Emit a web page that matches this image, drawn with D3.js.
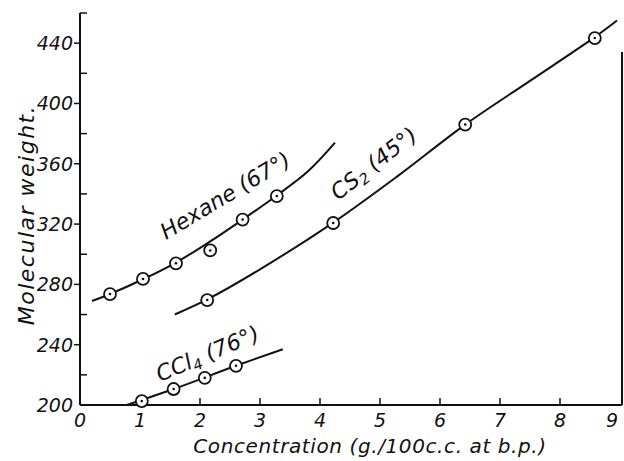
<!DOCTYPE html>
<html>
<head>
<meta charset="utf-8">
<script src="https://cdn.jsdelivr.net/npm/d3@7"></script>
<style>
  body { margin: 0; background: #fff; }
  text { font-family: "DejaVu Sans", sans-serif; font-style: italic; fill: #111; }
</style>
</head>
<body>
<div id="chart"></div>
<script>
// measured points (circles)
var hexanePts = [
    {c: 0.5, m: 273.6}, {c: 1.05, m: 283.6}, {c: 1.6, m: 294},
    {c: 2.17, m: 302.5}, {c: 2.71, m: 323}, {c: 3.28, m: 338.6}
];
var cs2Pts = [
    {c: 2.12, m: 269.6}, {c: 4.22, m: 320.7}, {c: 6.42, m: 386}, {c: 8.58, m: 443.4}
];
var ccl4Pts = [
    {c: 1.03, m: 202.6}, {c: 1.56, m: 210.6}, {c: 2.08, m: 218}, {c: 2.6, m: 226}
];

// drawn curves
var hexaneCurve = [
    {c: 0.2, m: 269}, {c: 0.5, m: 273.6}, {c: 1.05, m: 283.4}, {c: 1.6, m: 294.5},
    {c: 2.15, m: 308}, {c: 2.71, m: 323}, {c: 3.28, m: 339}, {c: 3.8, m: 355}, {c: 4.25, m: 374}
];
var cs2Curve = [
    {c: 1.58, m: 260}, {c: 2.12, m: 270}, {c: 3, m: 290}, {c: 4.22, m: 321},
    {c: 5.3, m: 352}, {c: 6.42, m: 386}, {c: 7.5, m: 415}, {c: 8.58, m: 444}, {c: 8.95, m: 455}
];
var ccl4Curve = [
    {c: 0.78, m: 200}, {c: 1.56, m: 210.6}, {c: 2.6, m: 226}, {c: 3.38, m: 237}
];

var xTicks = [0, 1, 2, 3, 4, 5, 6, 7, 8, 9];
var yMajor = [200, 240, 280, 320, 360, 400, 440];
var yMinor = [220, 260, 300, 340, 380, 420, 460];

var width = 624, height = 461;

var svg = d3.select("#chart")
    .append("svg")
    .attr("width", width)
    .attr("height", height);

var x = d3.scaleLinear().domain([0, 9]).range([80, 620]);
var y = d3.scaleLinear().domain([200, 460]).range([405, 13]);

// frame: left, bottom, right
svg.append("line")
    .attr("x1", x(0)).attr("x2", x(0))
    .attr("y1", y(460)).attr("y2", y(200))
    .attr("stroke", "#111").attr("stroke-width", 2);
svg.append("line")
    .attr("x1", x(0)).attr("x2", x(9) + 2)
    .attr("y1", y(200)).attr("y2", y(200))
    .attr("stroke", "#111").attr("stroke-width", 2);
svg.append("line")
    .attr("x1", x(9) + 2).attr("x2", x(9) + 2)
    .attr("y1", 52).attr("y2", y(200))
    .attr("stroke", "#111").attr("stroke-width", 2);

// y ticks: labelled ones point out, the others point in
svg.selectAll(".ymaj")
    .data(yMajor.filter(function(d) { return d > 200; }))
    .enter().append("line")
    .attr("x1", x(0) - 6).attr("x2", x(0))
    .attr("y1", function(d) { return y(d); })
    .attr("y2", function(d) { return y(d); })
    .attr("stroke", "#111").attr("stroke-width", 1.5);
svg.selectAll(".ymin")
    .data(yMinor)
    .enter().append("line")
    .attr("x1", x(0)).attr("x2", x(0) + 7)
    .attr("y1", function(d) { return y(d); })
    .attr("y2", function(d) { return y(d); })
    .attr("stroke", "#111").attr("stroke-width", 1.5);
svg.selectAll(".ylab")
    .data(yMajor)
    .enter().append("text")
    .attr("x", x(0) - 7)
    .attr("y", function(d) { return y(d) + 7; })
    .attr("text-anchor", "end")
    .style("font-size", "19px")
    .text(function(d) { return d; });

// x ticks
svg.selectAll(".xt")
    .data(xTicks.filter(function(d) { return d > 0 && d < 9; }))
    .enter().append("line")
    .attr("x1", function(d) { return x(d); })
    .attr("x2", function(d) { return x(d); })
    .attr("y1", y(200)).attr("y2", y(200) - 7)
    .attr("stroke", "#111").attr("stroke-width", 1.5);
svg.selectAll(".xlab")
    .data(xTicks)
    .enter().append("text")
    .attr("x", function(d) { return Math.min(x(d), 612); })
    .attr("y", y(200) + 22)
    .attr("text-anchor", "middle")
    .style("font-size", "19px")
    .text(function(d) { return d; });

// axis titles
svg.append("text")
    .attr("transform", "translate(34,215) rotate(-90)")
    .attr("text-anchor", "middle")
    .style("font-size", "22px")
    .style("letter-spacing", "1.5px")
    .text("Molecular weight.");
svg.append("text")
    .attr("x", 370)
    .attr("y", 453)
    .attr("text-anchor", "middle")
    .style("font-size", "20px")
    .style("letter-spacing", "0.6px")
    .text("Concentration (g./100c.c. at b.p.)");

// curves
var line = d3.line()
    .x(function(d) { return x(d.c); })
    .y(function(d) { return y(d.m); })
    .curve(d3.curveCatmullRom);

[hexaneCurve, cs2Curve, ccl4Curve].forEach(function(data) {
    svg.append("path")
        .datum(data)
        .attr("d", line)
        .attr("fill", "none")
        .attr("stroke", "#111")
        .attr("stroke-width", 2);
});

// points: open circle with a dot
var allPts = hexanePts.concat(cs2Pts, ccl4Pts);
var g = svg.selectAll(".pt")
    .data(allPts)
    .enter().append("g")
    .attr("transform", function(d) { return "translate(" + x(d.c) + "," + y(d.m) + ")"; });
g.append("circle")
    .attr("r", 6)
    .attr("fill", "#fff")
    .attr("stroke", "#111")
    .attr("stroke-width", 1.8);
g.append("circle")
    .attr("r", 1.3)
    .attr("fill", "#111");

// curve labels
svg.append("text")
    .attr("transform", "translate(166,240) rotate(-31)")
    .style("font-size", "22px")
    .text("Hexane (67°)");

var cs2 = svg.append("text")
    .attr("transform", "translate(338,201) rotate(-38)")
    .style("font-size", "22px");
cs2.append("tspan").text("CS");
cs2.append("tspan").attr("dy", 4).style("font-size", "15px").text("2");
cs2.append("tspan").attr("dy", -4).text(" (45°)");

var ccl = svg.append("text")
    .attr("transform", "translate(160,382) rotate(-23)")
    .style("font-size", "22px");
ccl.append("tspan").text("CCl");
ccl.append("tspan").attr("dy", 4).style("font-size", "15px").text("4");
ccl.append("tspan").attr("dy", -4).text(" (76°)");
</script>
</body>
</html>
